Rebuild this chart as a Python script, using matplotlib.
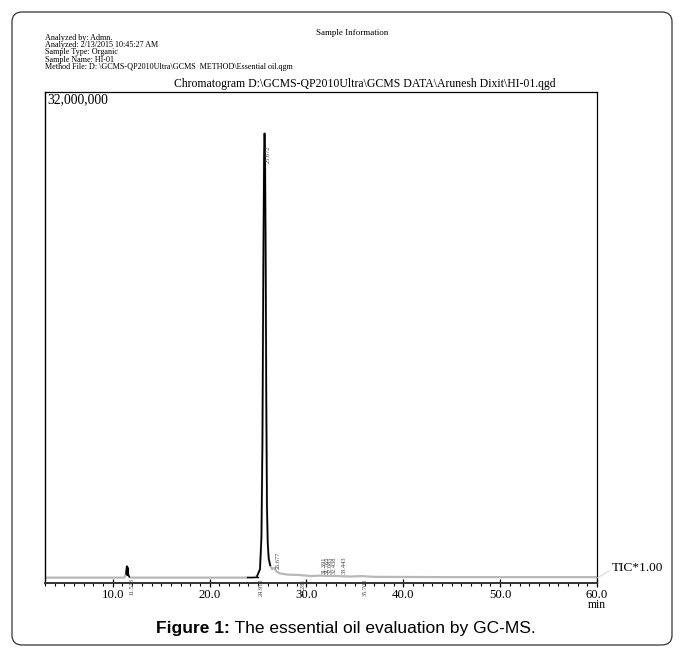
import matplotlib
matplotlib.use("Agg")
import matplotlib.pyplot as plt
from matplotlib.patches import FancyBboxPatch
from matplotlib.ticker import MultipleLocator, FixedLocator
import numpy as np

# ---- data ----
trace_time = [3.0, 11.2, 11.35, 11.45, 11.5, 11.55, 11.6, 11.7, 11.85, 24.5, 24.9, 25.2, 25.35,
              25.45, 25.55, 25.62, 25.67, 25.72, 25.78, 25.85, 25.92, 26.0, 26.1, 26.25,
              26.45, 26.677, 26.9, 27.3, 28.0, 29.281, 30.5, 31.391, 31.765, 32.085, 32.438,
              33.443, 34.5, 35.706, 37.0, 45.0, 60.0]
trace_int = [0.35e6, 0.35e6, 0.6e6, 1.1e6, 0.5e6, 1.0e6, 0.55e6, 0.4e6, 0.35e6, 0.35e6, 0.45e6,
             0.9e6, 3.0e6, 9.0e6, 21.0e6, 27.8e6, 29.3e6, 28.2e6, 22.0e6, 12.0e6, 5.0e6,
             2.6e6, 1.6e6, 1.15e6, 0.9e6, 1.0e6, 0.75e6, 0.62e6, 0.55e6, 0.52e6, 0.45e6, 0.48e6,
             0.47e6, 0.46e6, 0.46e6, 0.45e6, 0.42e6, 0.45e6, 0.4e6, 0.38e6, 0.38e6]
peak_rt = [11.523, 24.913, 25.672, 26.677, 29.281, 31.391, 31.765, 32.085, 32.438, 33.443, 35.706]
peak_labels = ["11.523", "24.913", "25.672", "26.677", "29.281", "31.391", "31.765",
               "32.085", "32.438", "33.443", "35.706"]
peak_label_y = [-0.9e6, -0.9e6, 27.4e6, 0.9e6, -0.6e6, 0.6e6, 0.6e6, 0.6e6, 0.6e6, 0.6e6, -0.6e6]
xticks = [10.0, 20.0, 30.0, 40.0, 50.0, 60.0]
header_lines = ["Analyzed by: Admn.",
                "Analyzed: 2/13/2015 10:45:27 AM",
                "Sample Type: Organic",
                "Sample Name: HI-01",
                "Method File: D: \\GCMS-QP2010Ultra\\GCMS  METHOD\\Essential oil.qgm"]
title = "Chromatogram D:\\GCMS-QP2010Ultra\\GCMS DATA\\Arunesh Dixit\\HI-01.qgd"
caption_bold = "Figure 1:"
caption_rest = " The essential oil evaluation by GC-MS."

W, H = 685, 648
fig = plt.figure(figsize=(W / 100, H / 100), dpi=100)
serif = "Liberation Serif"

def fx(x): return x / W
def fy(y): return 1 - y / H

# outer rounded border
border = FancyBboxPatch((fx(12), fy(645)), fx(660), (645 - 12) / H,
                        boxstyle="round,pad=0,rounding_size=0.015",
                        transform=fig.transFigure, fill=False, ec="#333333", lw=0.9)
fig.patches.append(border)

ax = fig.add_axes([fx(45), fy(583), fx(552), (583 - 92) / H])
ax.set_xlim(3.0, 60.0)
ax.set_ylim(0, 32e6)

t = np.array(trace_time)
y = np.array(trace_int)
ax.plot(t, y, color="#b8b8b8", lw=1.6, zorder=2)
mask = (t >= 24.9) & (t <= 26.3)
ax.plot(t[mask], y[mask], color="black", lw=1.2, zorder=3)
mask2 = (t >= 11.3) & (t <= 11.7)
ax.plot(t[mask2], y[mask2], color="black", lw=1.0, zorder=3)
ax.plot([23.9, 25.0], [0.4e6, 0.4e6], color="black", lw=1.0, zorder=3)

for rt, lab, ly in zip(peak_rt, peak_labels, peak_label_y):
    ax.text(rt + 0.15, ly if ly > 0 else 0.3e6, lab, rotation=90, fontsize=4.6,
            family=serif, color="#444444", ha="left", va="bottom" if ly > 0 else "top",
            zorder=4, clip_on=False)

for s in ["top", "right"]:
    ax.spines[s].set_linewidth(0.9)
ax.spines["left"].set_linewidth(1.0)
ax.spines["bottom"].set_linewidth(1.4)
ax.spines["bottom"].set_color("#333333")
ax.set_yticks([])
ax.xaxis.set_major_locator(FixedLocator(xticks))
ax.xaxis.set_minor_locator(MultipleLocator(1.0))
ax.set_xticklabels([f"{v:.1f}" for v in xticks], family=serif, fontsize=9.2)
ax.tick_params(axis="x", which="major", direction="inout", length=6, width=0.9, pad=1)
ax.tick_params(axis="x", which="minor", direction="out", length=2.5, width=0.8)

ax.text(0.004, 0.997, "32,000,000", transform=ax.transAxes, ha="left", va="top",
        family=serif, fontsize=9.8)

fig.text(fx(597), fy(611), "min", ha="center", va="bottom", family=serif, fontsize=8.5)
fig.text(fx(612), fy(568), "TIC*1.00", ha="left", va="center", family=serif, fontsize=9.5)
fig.add_artist(plt.Line2D([fx(597), fx(609)], [fy(578), fy(571)], transform=fig.transFigure,
                          color="#cccccc", lw=0.6))

fig.text(fx(365), fy(90), title, ha="center", va="bottom", family=serif, fontsize=8.5)
fig.text(fx(352), fy(33), "Sample Information", ha="center", va="center", family=serif, fontsize=6.5)
for i, line in enumerate(header_lines):
    fig.text(fx(45), fy(37.5 + 7.4 * i), line, ha="left", va="center", family=serif, fontsize=5.9)

# caption: bold part + regular part, centred as a whole
cap_size = 12.5
tb = fig.text(0, fy(628), caption_bold, ha="left", va="center",
              family="Liberation Sans", fontweight="bold", fontsize=cap_size)
tr = fig.text(0, fy(628), caption_rest, ha="left", va="center",
              family="Liberation Sans", fontsize=cap_size)
fig.canvas.draw()
r = fig.canvas.get_renderer()
wb = tb.get_window_extent(r).width
wr = tr.get_window_extent(r).width
x0 = 346 - (wb + wr) / 2
tb.set_x(fx(x0))
tr.set_x(fx(x0 + wb))

fig.savefig("out.png", dpi=100)
